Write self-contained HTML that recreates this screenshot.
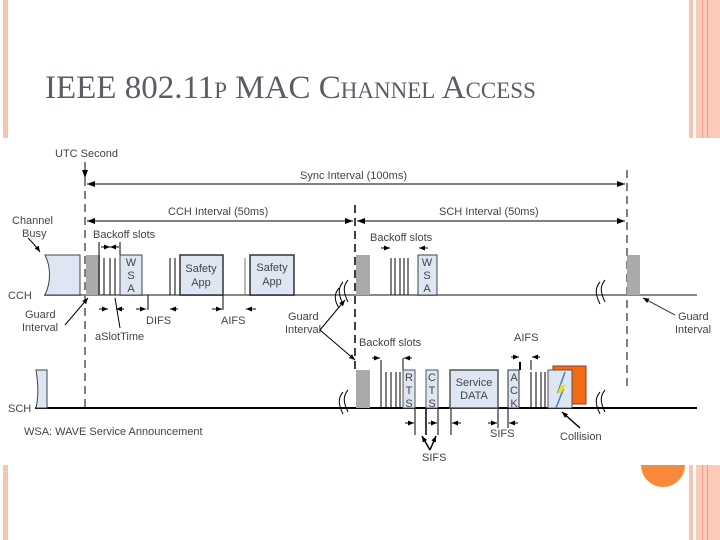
<!DOCTYPE html>
<html><head><meta charset="utf-8"><style>
body{margin:0;width:720px;height:540px;overflow:hidden;background:#fff;position:relative;font-family:"Liberation Sans",sans-serif}
.t{position:absolute;left:45px;top:70px;font-family:"Liberation Serif",serif;color:#585d66;font-size:33px;white-space:nowrap}
.t small{font-size:23px}
</style></head><body>
<div style="position:absolute;left:3px;top:0;width:5px;height:540px;background:#f7c4b0"></div>
<div style="position:absolute;left:689px;top:0;width:4px;height:540px;background:#f7c4b0"></div>
<div style="position:absolute;left:696px;top:0;width:24px;height:540px;background:#fbcab8"></div>
<div style="position:absolute;left:702px;top:0;width:1px;height:540px;background:#e8a088"></div>
<div style="position:absolute;left:707px;top:0;width:1px;height:540px;background:#e8a088"></div>
<div style="position:absolute;left:641px;top:443px;width:44px;height:44px;border-radius:50%;background:#f98a3c"></div>
<div class="t">IEEE 802.11<small>P</small> MAC C<small>HANNEL</small> A<small>CCESS</small></div>
<svg style="position:absolute;left:0;top:138px" width="720" height="327" viewBox="0 138 720 327">
<defs><marker id="a" markerWidth="8" markerHeight="6" refX="8" refY="3" orient="auto" markerUnits="userSpaceOnUse"><path d="M0,0L8,3L0,6z" fill="#000"/></marker>
<marker id="s" markerWidth="6" markerHeight="5" refX="6" refY="2.5" orient="auto" markerUnits="userSpaceOnUse"><path d="M0,0L6,2.5L0,5z" fill="#000"/></marker></defs>
<rect x="0" y="138" width="720" height="327" fill="#fff"/>
<g font-family="Liberation Sans,sans-serif" font-size="11" fill="#444">
<text x="55" y="157">UTC Second</text>
<text x="300" y="179">Sync Interval (100ms)</text>
<text x="168" y="215">CCH Interval (50ms)</text>
<text x="439" y="215">SCH Interval (50ms)</text>
<text x="12" y="224">Channel</text><text x="22" y="237">Busy</text>
<text x="93" y="238">Backoff slots</text>
<text x="370" y="241">Backoff slots</text>
<text x="8" y="299">CCH</text>
<text x="25" y="318">Guard</text><text x="22" y="331">Interval</text>
<text x="146" y="324">DIFS</text><text x="221" y="324">AIFS</text>
<text x="288" y="320">Guard</text><text x="285" y="333">Interval</text>
<text x="95" y="340">aSlotTime</text>
<text x="678" y="320">Guard</text><text x="675" y="333">Interval</text>
<text x="359" y="346">Backoff slots</text>
<text x="514" y="341">AIFS</text>
<text x="8" y="412">SCH</text>
<text x="24" y="435">WSA: WAVE Service Announcement</text>
<text x="490" y="437">SIFS</text>
<text x="560" y="440">Collision</text>
<text x="422" y="461">SIFS</text>
</g>
<g stroke="#000" stroke-width="1" fill="none">
<line x1="85" y1="162" x2="85" y2="178" marker-end="url(#a)"/>
<line x1="85" y1="178" x2="85" y2="410" stroke-dasharray="8,5"/>
<line x1="355" y1="205" x2="355" y2="370" stroke-dasharray="8,5" stroke-width="1.5"/>
<line x1="627" y1="170" x2="627" y2="388" stroke-dasharray="8,5"/>
<line x1="87" y1="184" x2="625" y2="184" marker-end="url(#a)"/>
<line x1="625" y1="184" x2="87" y2="184" marker-end="url(#a)"/>
<line x1="87" y1="221" x2="353" y2="221" marker-end="url(#a)"/>
<line x1="353" y1="221" x2="87" y2="221" marker-end="url(#a)"/>
<line x1="357" y1="221" x2="625" y2="221" marker-end="url(#a)"/>
<line x1="625" y1="221" x2="357" y2="221" marker-end="url(#a)"/>
</g>
<!-- CCH -->
<line x1="44" y1="295" x2="697" y2="295" stroke="#888" stroke-width="2"/>
<path d="M45,255H80V295H45C52,280 50,265 45,255z" fill="#dde6f2" stroke="#444"/>
<path d="M28,238C32,242 36,246 40,252" stroke="#000" fill="none" marker-end="url(#s)"/>
<rect x="86" y="255" width="14" height="40" fill="#aaa"/>
<g stroke="#000">
<line x1="104" y1="258" x2="104" y2="295"/><line x1="110" y1="258" x2="110" y2="295"/><line x1="115" y1="258" x2="115" y2="295"/>
<line x1="99" y1="242" x2="99" y2="295"/><line x1="120" y1="242" x2="120" y2="255"/>
<line x1="170" y1="258" x2="170" y2="295"/><line x1="175" y1="258" x2="175" y2="295"/>
<line x1="245" y1="258" x2="245" y2="295" stroke="#777"/>
<line x1="148" y1="295" x2="148" y2="310"/><line x1="223" y1="295" x2="223" y2="310"/>
<line x1="101" y1="247" x2="110" y2="247" marker-end="url(#s)"/><line x1="119" y1="247" x2="110" y2="247" marker-end="url(#s)"/>
<line x1="99" y1="309" x2="108" y2="309" marker-end="url(#s)"/><line x1="124" y1="309" x2="116" y2="309" marker-end="url(#s)"/><line x1="136" y1="309" x2="146" y2="309" marker-end="url(#s)"/>
<line x1="178" y1="309" x2="170" y2="309" marker-end="url(#s)"/><line x1="212" y1="309" x2="222" y2="309" marker-end="url(#s)"/><line x1="256" y1="309" x2="246" y2="309" marker-end="url(#s)"/>
<line x1="120" y1="328" x2="115" y2="298"/>
<line x1="65" y1="325" x2="88" y2="298" marker-end="url(#s)"/>
</g>
<rect x="120" y="255" width="22" height="40" fill="#dde6f2" stroke="#444"/>
<g font-family="Liberation Sans,sans-serif" font-size="11" fill="#444" text-anchor="middle">
<text x="131" y="266">W</text><text x="131" y="279">S</text><text x="131" y="292">A</text>
</g>
<rect x="180" y="255" width="43" height="40" fill="#dde6f2" stroke="#333" stroke-width="1.5"/>
<rect x="250" y="255" width="44" height="40" fill="#dde6f2" stroke="#333" stroke-width="1.5"/>
<g font-family="Liberation Sans,sans-serif" font-size="11" fill="#444" text-anchor="middle">
<text x="201" y="272">Safety</text><text x="201" y="286">App</text>
<text x="272" y="271">Safety</text><text x="272" y="285">App</text>
</g>
<rect x="356" y="255" width="14" height="40" fill="#aaa"/>
<g stroke="#000">
<line x1="391" y1="258" x2="391" y2="295"/><line x1="395" y1="258" x2="395" y2="295"/><line x1="400" y1="258" x2="400" y2="295"/><line x1="404" y1="258" x2="404" y2="295"/><line x1="408" y1="258" x2="408" y2="295"/>
<line x1="381" y1="248" x2="390" y2="248" marker-end="url(#s)"/><line x1="428" y1="248" x2="419" y2="248" marker-end="url(#s)"/>
<line x1="320" y1="330" x2="355" y2="360" marker-end="url(#s)"/><line x1="320" y1="330" x2="345" y2="300" marker-end="url(#s)"/>
</g>
<rect x="418" y="255" width="19" height="40" fill="#dde6f2" stroke="#444"/>
<g font-family="Liberation Sans,sans-serif" font-size="11" fill="#444" text-anchor="middle">
<text x="427" y="266">W</text><text x="427" y="279">S</text><text x="427" y="292">A</text>
</g>
<rect x="627" y="255" width="13" height="40" fill="#aaa"/>
<line x1="675" y1="315" x2="643" y2="298" stroke="#444" marker-end="url(#s)"/>
<g stroke="#000" fill="none">
<path d="M343,282c-5,6 -5,12 0,22M348,280c-5,6 -5,12 0,22M339,288c-5,6 -5,12 0,20"/>
<path d="M600,282c-5,6 -5,12 0,22M605,280c-5,6 -5,12 0,22"/>
</g>
<!-- SCH -->
<line x1="35" y1="408" x2="697" y2="408" stroke="#000" stroke-width="2"/>
<path d="M36,370H47V408H36C39,395 38,382 36,370z" fill="#dde6f2" stroke="#444"/>
<rect x="356" y="370" width="14" height="38" fill="#aaa"/>
<g stroke="#000">
<line x1="381" y1="372" x2="381" y2="408"/><line x1="386" y1="372" x2="386" y2="408"/><line x1="391" y1="372" x2="391" y2="408"/><line x1="396" y1="372" x2="396" y2="408"/><line x1="400" y1="372" x2="400" y2="408"/>
<line x1="381" y1="360" x2="381" y2="372"/><line x1="403" y1="358" x2="403" y2="370"/>
<line x1="372" y1="358" x2="380" y2="358" marker-end="url(#s)"/><line x1="412" y1="358" x2="404" y2="358" marker-end="url(#s)"/>
<line x1="531" y1="372" x2="531" y2="408"/><line x1="536" y1="372" x2="536" y2="408"/><line x1="541" y1="372" x2="541" y2="408"/><line x1="545" y1="372" x2="545" y2="408"/>
<line x1="520" y1="362" x2="520" y2="370" stroke-width="2"/><line x1="531" y1="360" x2="531" y2="370"/>
<line x1="511" y1="357" x2="519" y2="357" marker-end="url(#s)"/><line x1="540" y1="357" x2="532" y2="357" marker-end="url(#s)"/>
<line x1="415" y1="408" x2="415" y2="435"/><line x1="426" y1="408" x2="426" y2="435" stroke-width="1.5"/><line x1="438" y1="408" x2="438" y2="435"/><line x1="451" y1="408" x2="451" y2="435"/>
<line x1="498" y1="408" x2="498" y2="428"/><line x1="508" y1="408" x2="508" y2="428"/>
<line x1="405" y1="423" x2="414" y2="423" marker-end="url(#s)"/><line x1="428" y1="423" x2="437" y2="423" marker-end="url(#s)"/><line x1="461" y1="423" x2="452" y2="423" marker-end="url(#s)"/>
<line x1="488" y1="423" x2="497" y2="423" marker-end="url(#s)"/><line x1="518" y1="423" x2="509" y2="423" marker-end="url(#s)"/>
<line x1="430" y1="450" x2="422" y2="436" stroke-width="1.5" marker-end="url(#s)"/><line x1="430" y1="450" x2="436" y2="436" stroke-width="1.5" marker-end="url(#s)"/>
<line x1="580" y1="428" x2="562" y2="412" stroke-width="1.5" marker-end="url(#s)"/>
</g>
<rect x="403" y="370" width="12" height="38" fill="#dde6f2" stroke="#555"/>
<rect x="426" y="370" width="12" height="38" fill="#dde6f2" stroke="#555"/>
<rect x="450" y="370" width="48" height="38" fill="#dde6f2" stroke="#555" stroke-width="1.5"/>
<rect x="508" y="370" width="11" height="38" fill="#dde6f2" stroke="#333"/>
<rect x="553" y="366" width="33" height="38" fill="#f26a12" stroke="#933"/>
<rect x="548" y="370" width="24" height="38" fill="#dde6f2" stroke="#555"/>
<path d="M565,372L558,392L563,390L556,408" stroke="#4a7ac0" fill="none" stroke-width="1.5"/>
<path d="M562,382L557,394L562,392L559,398L566,384L561,386z" fill="#e8e020"/>
<g font-family="Liberation Sans,sans-serif" font-size="11" fill="#444" text-anchor="middle">
<text x="409" y="381">R</text><text x="409" y="394">T</text><text x="409" y="407">S</text>
<text x="432" y="381">C</text><text x="432" y="394">T</text><text x="432" y="407">S</text>
<text x="474" y="386">Service</text><text x="474" y="399">DATA</text>
<text x="514" y="381">A</text><text x="514" y="394">C</text><text x="514" y="407">K</text>
</g>
<g stroke="#000" fill="none">
<path d="M343,392c-5,6 -5,12 0,22M348,390c-5,6 -5,12 0,22"/>
<path d="M600,392c-5,6 -5,12 0,22M605,390c-5,6 -5,12 0,22"/>
</g>
</svg>
</body></html>
